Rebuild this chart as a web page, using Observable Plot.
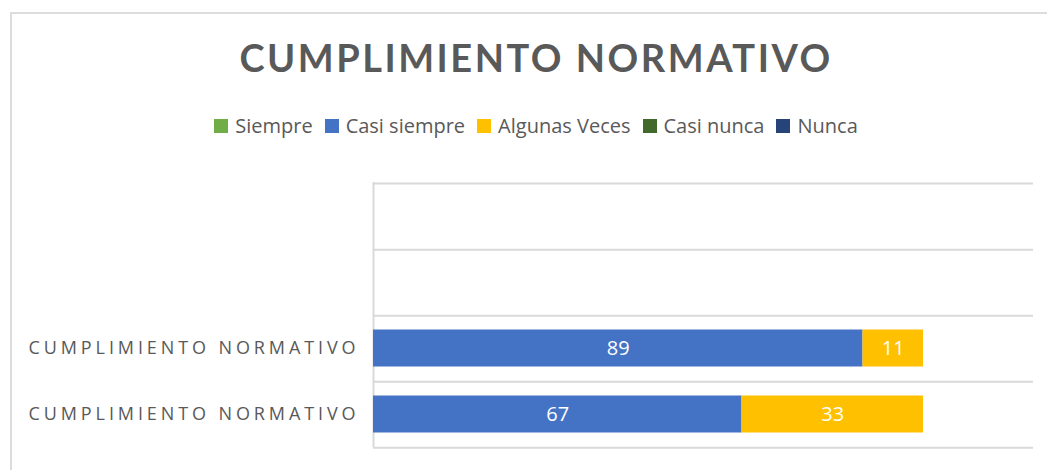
<!DOCTYPE html>
<html>
<head>
<meta charset="utf-8">
<script src="https://cdn.jsdelivr.net/npm/d3@7"></script>
<script src="https://cdn.jsdelivr.net/npm/@observablehq/plot@0.6"></script>
<style>
  html, body { margin: 0; padding: 0; background: #fff; width: 1047px; height: 470px; overflow: hidden; }
  #frame { position: absolute; left: 10px; top: 12px; width: 1200px; height: 600px; border-top: 2px solid #dcdcdc; border-left: 2px solid #dcdcdc; }
  #title { position: absolute; left: 0; top: 34px; width: 1072px; text-align: center; font-family: Lato, "Open Sans", sans-serif; font-weight: 700; font-size: 38px; letter-spacing: 2.5px; color: #595959; }
  #legend { position: absolute; left: 0; top: 112px; width: 1072px; display: flex; justify-content: center; font-family: "Open Sans", sans-serif; font-size: 20px; color: #595959; }
  #legend .item { display: flex; align-items: center; margin: 0 6px; }
  #legend .sw { width: 14px; height: 14px; margin-right: 7px; }
  #chart { position: absolute; left: 0; top: 160px; }
  #chart svg [aria-label="y-axis tick label"] text { letter-spacing: 3.9px; }
</style>
</head>
<body>
<div id="frame"></div>
<div id="title">CUMPLIMIENTO NORMATIVO</div>
<div id="legend"></div>
<div id="chart"></div>
<script>
// ---- data ----
const rowIds = ["r4", "r3", "r2", "r1"];                       // top to bottom
const rowLabels = ["", "", "CUMPLIMIENTO NORMATIVO", "CUMPLIMIENTO NORMATIVO"];
const seriesNames = ["Siempre", "Casi siempre", "Algunas Veces", "Casi nunca", "Nunca"];
const seriesColors = ["#70AD47", "#4472C4", "#FFC000", "#43682B", "#264478"];
const siempre      = [0, 0, 0, 0];
const casiSiempre  = [0, 0, 89, 67];
const algunasVeces = [0, 0, 11, 33];
const casiNunca    = [0, 0, 0, 0];
const nunca        = [0, 0, 0, 0];

const seriesValues = [siempre, casiSiempre, algunasVeces, casiNunca, nunca];
const data = [];
seriesNames.forEach((s, si) => {
  rowIds.forEach((r, ri) => {
    data.push({row: r, series: s, value: seriesValues[si][ri]});
  });
});
const labelOf = Object.fromEntries(rowIds.map((r, i) => [r, rowLabels[i]]));

// legend
const legend = document.getElementById("legend");
seriesNames.forEach((s, i) => {
  const it = document.createElement("div");
  it.className = "item";
  it.innerHTML = `<span class="sw" style="background:${seriesColors[i]}"></span><span>${s}</span>`;
  legend.appendChild(it);
});

// chart
const W = 1047, H = 310, MT = 22, MB = 23, ML = 373, MR = 14;
const step = (H - MT - MB) / rowIds.length;
const gridColor = "#d9d9d9";

const chart = Plot.plot({
  width: W,
  height: H,
  marginTop: MT,
  marginBottom: MB,
  marginLeft: ML,
  marginRight: MR,
  style: {fontFamily: "'Open Sans', sans-serif", background: "transparent"},
  x: {domain: [0, 120], axis: null},
  y: {domain: rowIds, padding: 0, label: null},
  color: {domain: seriesNames, range: seriesColors},
  marks: [
    Plot.ruleY(rowIds, {y: d => d, dy: step / 2, stroke: gridColor, strokeWidth: 2}),
    Plot.ruleY(rowIds.slice(0, 1), {y: d => d, dy: -step / 2, stroke: gridColor, strokeWidth: 2}),
    Plot.ruleX([0], {stroke: gridColor, strokeWidth: 2}),
    Plot.barX(data.filter(d => d.value > 0), Plot.stackX({x: "value", y: "row", fill: "series", order: seriesNames, insetTop: 14.5, insetBottom: 14.5})),
    Plot.text(data.filter(d => d.value > 0), Plot.stackX({x: "value", y: "row", z: "series", order: seriesNames, text: d => String(d.value), fill: "white", fontSize: 20, fontFamily: "'Open Sans', sans-serif"})),
    Plot.axisY({tickSize: 0, tickPadding: 14, tickFormat: d => labelOf[d], fontSize: 18, color: "#595959", label: null})
  ]
});
document.getElementById("chart").appendChild(chart);
</script>
</body>
</html>
